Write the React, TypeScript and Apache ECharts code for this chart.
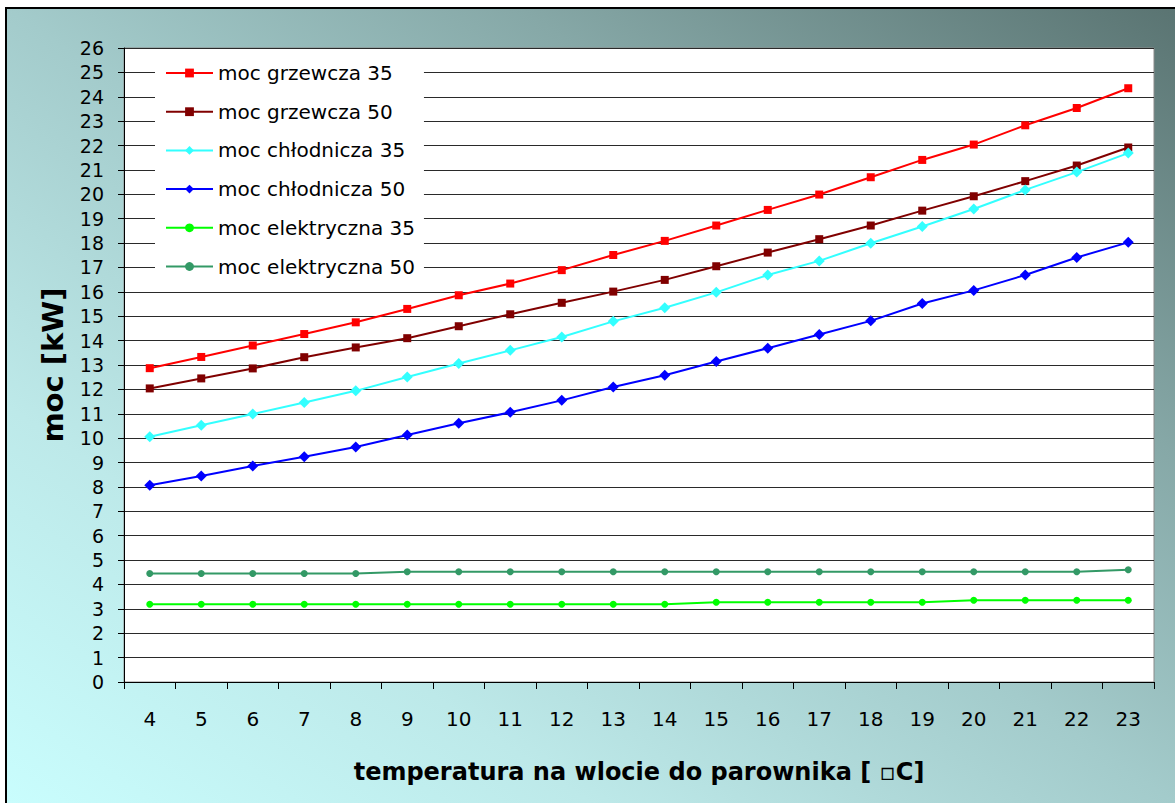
import React, { useEffect, useRef } from "react";
import * as echarts from "echarts";

const categories = ["4", "5", "6", "7", "8", "9", "10", "11", "12", "13", "14", "15", "16", "17", "18", "19", "20", "21", "22", "23"];

const grzewcza35 = [12.87, 13.33, 13.8, 14.27, 14.75, 15.3, 15.86, 16.34, 16.89, 17.51, 18.09, 18.72, 19.36, 19.99, 20.7, 21.41, 22.04, 22.83, 23.54, 24.35];
const grzewcza50 = [12.04, 12.45, 12.86, 13.32, 13.72, 14.1, 14.59, 15.08, 15.55, 16.01, 16.49, 17.05, 17.61, 18.16, 18.72, 19.33, 19.92, 20.54, 21.18, 21.92];
const chlodnicza35 = [10.06, 10.53, 10.99, 11.46, 11.94, 12.51, 13.06, 13.6, 14.15, 14.79, 15.35, 15.98, 16.69, 17.27, 17.99, 18.68, 19.4, 20.18, 20.91, 21.69];
const chlodnicza50 = [8.07, 8.45, 8.86, 9.24, 9.64, 10.13, 10.61, 11.06, 11.55, 12.1, 12.58, 13.14, 13.69, 14.25, 14.81, 15.52, 16.06, 16.69, 17.41, 18.03];
const elektryczna35 = [3.19, 3.19, 3.19, 3.19, 3.19, 3.19, 3.19, 3.19, 3.19, 3.19, 3.19, 3.27, 3.27, 3.27, 3.27, 3.27, 3.35, 3.35, 3.35, 3.35];
const elektryczna50 = [4.45, 4.45, 4.45, 4.45, 4.45, 4.52, 4.52, 4.52, 4.52, 4.52, 4.52, 4.52, 4.52, 4.52, 4.52, 4.52, 4.52, 4.52, 4.52, 4.6];

const seriesNames = [
  "moc grzewcza 35",
  "moc grzewcza 50",
  "moc chłodnicza 35",
  "moc chłodnicza 50",
  "moc elektryczna 35",
  "moc elektryczna 50",
];

const xTitle = "temperatura na wlocie do parownika [ \u25ABC]";
const yTitle = "moc [kW]";

const FONT = "DejaVu Sans";

function mkSeries(name: string, data: number[], color: string, symbol: string, size: number) {
  return {
    type: "line",
    name,
    data,
    symbol,
    symbolSize: size,
    showSymbol: true,
    itemStyle: { color },
    lineStyle: { color, width: 2 },
    emphasis: { disabled: true },
  };
}

export default function App() {
  const ref = useRef<HTMLDivElement>(null);
  useEffect(() => {
    const chart = echarts.init(ref.current!, null, { renderer: "svg" });
    const option = {
      animation: false,
      backgroundColor: new echarts.graphic.LinearGradient(0, 1, 1, 0, [
        { offset: 0, color: "#c9fdfd" },
        { offset: 0.25, color: "#bde9e9" },
        { offset: 0.5, color: "#a3cbcb" },
        { offset: 0.72, color: "#86a8a7" },
        { offset: 1, color: "#5a7472" },
      ]),
      grid: {
        left: 117,
        top: 39,
        width: 1030,
        height: 634,
        show: true,
        backgroundColor: "#ffffff",
        borderColor: "#8a8a8a",
        borderWidth: 1,
      },
      legend: {
        orient: "vertical",
        left: 148,
        top: 43,
        data: seriesNames,
        backgroundColor: "#ffffff",
        padding: [10, 9, 10, 10],
        itemWidth: 47,
        itemHeight: 11,
        itemGap: 16.7,
        textStyle: { fontFamily: FONT, fontSize: 20, color: "#000", lineHeight: 22 },
      },
      xAxis: {
        type: "category",
        data: categories,
        boundaryGap: true,
        name: xTitle,
        nameLocation: "middle",
        nameGap: 78,
        nameTextStyle: { fontFamily: FONT, fontSize: 24, fontWeight: "bold", color: "#000" },
        axisLine: { show: true, lineStyle: { color: "#000", width: 1 } },
        axisTick: { show: true, alignWithLabel: false, length: 7, lineStyle: { color: "#000" } },
        axisLabel: { fontFamily: FONT, fontSize: 20, color: "#000", margin: 27 },
        splitLine: { show: false },
      },
      yAxis: {
        type: "value",
        min: 0,
        max: 26,
        interval: 1,
        name: yTitle,
        nameLocation: "middle",
        nameGap: 57,
        nameTextStyle: { fontFamily: FONT, fontSize: 29, fontWeight: "bold", color: "#000" },
        axisLine: { show: true, lineStyle: { color: "#000", width: 1 } },
        axisTick: { show: true, inside: false, length: 6, lineStyle: { color: "#000" } },
        axisLabel: { fontFamily: FONT, fontSize: 19, color: "#000", margin: 20 },
        splitLine: { show: true, lineStyle: { color: "#2a2a2a", width: 1 } },
      },
      series: [
        mkSeries(seriesNames[0], grzewcza35, "#ff0000", "rect", 8),
        mkSeries(seriesNames[1], grzewcza50, "#800000", "rect", 8),
        mkSeries(seriesNames[2], chlodnicza35, "#33ffff", "diamond", 11),
        mkSeries(seriesNames[3], chlodnicza50, "#0000ff", "diamond", 11),
        mkSeries(seriesNames[4], elektryczna35, "#00ff00", "circle", 7),
        mkSeries(seriesNames[5], elektryczna50, "#339966", "circle", 7),
      ],
    };
    chart.setOption(option as any);
    return () => chart.dispose();
  }, []);
  return (
    <div style={{ position: "fixed", left: 0, top: 0, width: 1175, height: 803, background: "#fff", overflow: "hidden" }}>
      <div
        ref={ref}
        style={{
          position: "absolute",
          left: 5,
          top: 7,
          width: 1170,
          height: 796,
          borderTop: "2px solid #000",
          borderLeft: "2px solid #000",
          boxSizing: "border-box",
        }}
      />
    </div>
  );
}
